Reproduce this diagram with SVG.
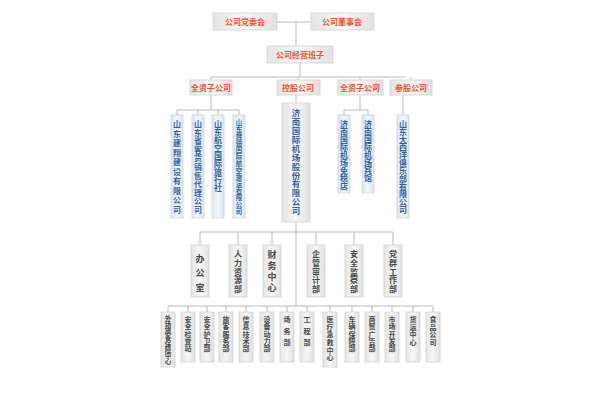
<svg xmlns="http://www.w3.org/2000/svg" width="600" height="400" viewBox="0 0 600 400">
<defs>
<linearGradient id="g" x1="0" y1="0" x2="1" y2="0"><stop offset="0" stop-color="#e4e4e4"/><stop offset="0.5" stop-color="#f7f7f7"/><stop offset="1" stop-color="#e0e0e0"/></linearGradient>
<linearGradient id="gb" x1="0" y1="0" x2="1" y2="0"><stop offset="0" stop-color="#d8e6f4"/><stop offset="0.5" stop-color="#f4f8fc"/><stop offset="1" stop-color="#d8e6f4"/></linearGradient>
</defs>
<style>
.b{fill:url(#g);stroke:#d2d2d2;stroke-width:0.8}
.bb{fill:url(#gb);stroke:#d2d2d2;stroke-width:0.8}
.h{font-family:"Noto Sans CJK SC",serif;font-weight:bold;font-size:8px;fill:#e5532a;text-anchor:middle}
.v{font-family:"Noto Sans CJK SC",serif;font-weight:bold;fill:#2f5e9c;writing-mode:vertical-rl;text-orientation:upright}
.d{font-family:"Noto Sans CJK SC",serif;font-weight:bold;fill:#444;writing-mode:vertical-rl;text-orientation:upright}
.c{fill:none;stroke:#b8b8b8;stroke-width:1}
</style>
<rect width="600" height="400" fill="#fff"/>
<g id="connectors" class="c">
<path d="M277 22H311M296 22V46M300 63V77M211 77H405M211 77V80M298 77V80M360 77V80M411 77V80"/>
<path d="M211 95V110M177 110H239M177 110V115M198 110V115M218 110V115M239 110V115"/>
<path d="M360 95V110M344 110H368M344 110V115M368 110V115M403 95V115M296 95V103"/>
<path d="M296 222V306M200 232H393M200 232V245M238 232V245M272 232V245M316 232V245M354 232V245M393 232V245"/>
<path d="M168 306H433M168 306V312M188 306V312M207 306V312M226 306V312M246 306V312M267 306V312M287 306V312M307 306V312M330 306V312M352 306V312M372 306V312M392 306V312M413 306V312M433 306V312"/>
</g>
<g id="n-dangwei"><rect class="b" x="213" y="13" width="64" height="17"/><text class="h" x="245" y="25">公司党委会</text></g>
<g id="n-dongshi"><rect class="b" x="311" y="13" width="63" height="17"/><text class="h" x="342" y="25">公司董事会</text></g>
<g id="n-jingying"><rect class="b" x="267" y="46" width="66" height="17"/><text class="h" x="300" y="58">公司经营班子</text></g>
<g id="n-qz1"><rect class="b" x="190" y="80" width="42" height="15"/><text class="h" x="211" y="91" font-size="7.5">全资子公司</text></g>
<g id="n-kg"><rect class="b" x="277" y="80" width="43" height="15"/><text class="h" x="298" y="91" font-size="7.5">控股公司</text></g>
<g id="n-qz2"><rect class="b" x="338" y="80" width="45" height="15"/><text class="h" x="360" y="91" font-size="7.5">全资子公司</text></g>
<g id="n-cg"><rect class="b" x="390" y="80" width="42" height="15"/><text class="h" x="411" y="91" font-size="7.5">参股公司</text></g>
<g id="s1"><rect class="bb" x="171" y="115" width="12" height="103"/><text class="v" x="177" y="120" font-size="8" textLength="94" lengthAdjust="spacing">山东建翔建设有限公司</text></g>
<g id="s2"><rect class="bb" x="192" y="115" width="12" height="103"/><text class="v" x="198" y="120" font-size="8" textLength="94" lengthAdjust="spacing">山东省客货销售代理公司</text></g>
<g id="s3"><rect class="bb" x="212" y="115" width="12" height="103"/><text class="v" x="218" y="120" font-size="8" textLength="72" lengthAdjust="spacing">山东航空国际旅行社</text></g>
<g id="s4"><rect class="bb" x="233" y="115" width="12" height="103"/><text class="v" x="239" y="119" font-size="6.5" textLength="96" lengthAdjust="spacing">山东舜德国际航空旅运有限公司</text></g>
<g id="s5"><rect class="b" x="282" y="103" width="28" height="119"/><text class="v" x="296" y="109" font-size="8.5" textLength="106" lengthAdjust="spacing">济南国际机场股份有限公司</text></g>
<g id="s6"><rect class="bb" x="338" y="115" width="12" height="78"/><text class="v" x="344" y="120" font-size="8" textLength="70" lengthAdjust="spacing">济南国际机场免税店</text></g>
<g id="s7"><rect class="bb" x="362" y="115" width="12" height="78"/><text class="v" x="368" y="120" font-size="8" textLength="62" lengthAdjust="spacing">济南国际机场宾馆</text></g>
<g id="s8"><rect class="bb" x="397" y="115" width="12" height="103"/><text class="v" x="403" y="120" font-size="8" textLength="94" lengthAdjust="spacing">山东大西洋俱乐部有限公司</text></g>
<g id="d1"><rect class="b" x="191" y="245" width="18" height="52"/><text class="d" x="200" y="254" font-size="9" textLength="38" lengthAdjust="spacing">办公室</text></g>
<g id="d2"><rect class="b" x="229" y="245" width="18" height="52"/><text class="d" x="238" y="250" font-size="8" textLength="43" lengthAdjust="spacing">人力资源部</text></g>
<g id="d3"><rect class="b" x="263" y="245" width="18" height="52"/><text class="d" x="272" y="250" font-size="9" textLength="42" lengthAdjust="spacing">财务中心</text></g>
<g id="d4"><rect class="b" x="307" y="245" width="18" height="52"/><text class="d" x="316" y="250" font-size="8" textLength="43" lengthAdjust="spacing">企管审计部</text></g>
<g id="d5"><rect class="b" x="345" y="245" width="18" height="52"/><text class="d" x="354" y="250" font-size="8" textLength="43" lengthAdjust="spacing">安全监察部</text></g>
<g id="d6"><rect class="b" x="384" y="245" width="18" height="52"/><text class="d" x="393" y="250" font-size="8" textLength="43" lengthAdjust="spacing">党群工作部</text></g>
<g id="b1"><rect class="b" x="161" y="312" width="14" height="55"/><text class="d" x="168" y="315" font-size="6.5" textLength="50" lengthAdjust="spacing">外场旅客保障中心</text></g>
<g id="b2"><rect class="b" x="181" y="312" width="14" height="50"/><text class="d" x="188" y="316" font-size="7" textLength="36" lengthAdjust="spacing">安全检查站</text></g>
<g id="b3"><rect class="b" x="200" y="312" width="14" height="50"/><text class="d" x="207" y="316" font-size="7" textLength="36" lengthAdjust="spacing">安全护卫部</text></g>
<g id="b4"><rect class="b" x="219" y="312" width="14" height="50"/><text class="d" x="226" y="316" font-size="7" textLength="36" lengthAdjust="spacing">旅客服务部</text></g>
<g id="b5"><rect class="b" x="239" y="312" width="14" height="50"/><text class="d" x="246" y="316" font-size="7" textLength="36" lengthAdjust="spacing">信息技术部</text></g>
<g id="b6"><rect class="b" x="260" y="312" width="14" height="50"/><text class="d" x="267" y="316" font-size="7" textLength="36" lengthAdjust="spacing">设备动力部</text></g>
<g id="b7"><rect class="b" x="280" y="312" width="14" height="50"/><text class="d" x="287" y="316" font-size="7" textLength="30" lengthAdjust="spacing">场务部</text></g>
<g id="b8"><rect class="b" x="300" y="312" width="14" height="50"/><text class="d" x="307" y="316" font-size="7" textLength="30" lengthAdjust="spacing">工程部</text></g>
<g id="b9"><rect class="b" x="323" y="312" width="14" height="55"/><text class="d" x="330" y="316" font-size="7" textLength="45" lengthAdjust="spacing">医疗急救中心</text></g>
<g id="b10"><rect class="b" x="345" y="312" width="14" height="50"/><text class="d" x="352" y="316" font-size="7" textLength="36" lengthAdjust="spacing">车辆保障部</text></g>
<g id="b11"><rect class="b" x="365" y="312" width="14" height="50"/><text class="d" x="372" y="316" font-size="7" textLength="36" lengthAdjust="spacing">商贸广告部</text></g>
<g id="b12"><rect class="b" x="385" y="312" width="14" height="50"/><text class="d" x="392" y="316" font-size="7" textLength="36" lengthAdjust="spacing">市场开发部</text></g>
<g id="b13"><rect class="b" x="406" y="312" width="14" height="50"/><text class="d" x="413" y="316" font-size="7" textLength="30" lengthAdjust="spacing">货运中心</text></g>
<g id="b14"><rect class="b" x="426" y="312" width="14" height="50"/><text class="d" x="433" y="316" font-size="7" textLength="30" lengthAdjust="spacing">食品公司</text></g>
</svg>
